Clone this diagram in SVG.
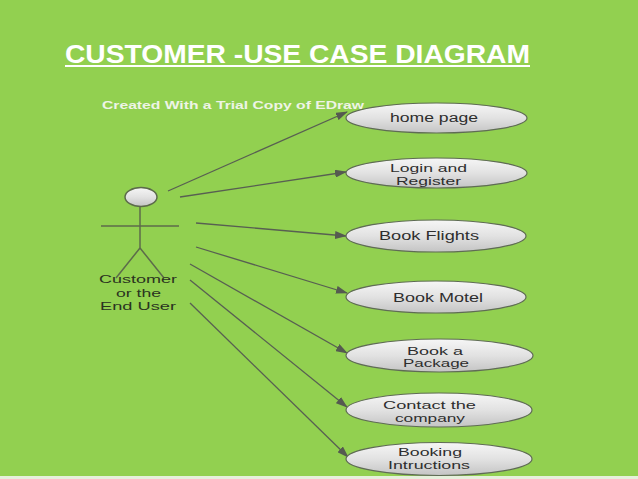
<svg xmlns="http://www.w3.org/2000/svg" width="638" height="479" viewBox="0 0 638 479">
<defs>
<linearGradient id="ug" x1="0" y1="0" x2="0" y2="1">
<stop offset="0" stop-color="#f6f6f6"/>
<stop offset="0.5" stop-color="#e2e2e2"/>
<stop offset="1" stop-color="#c4c4c4"/>
</linearGradient>
<marker id="arr" markerWidth="12" markerHeight="8" refX="11" refY="4" orient="auto" markerUnits="userSpaceOnUse">
<path d="M0,0 L12,4 L0,8 Z" fill="#555a50"/>
</marker>
<style>
.uc{fill:url(#ug);stroke:#5f6b55;stroke-width:1.2}
.ut{font-family:"Liberation Sans",Arial,sans-serif;font-size:12.5px;fill:#2e2e2e;text-anchor:middle}
.u2{font-size:11px}
.ac{font-family:"Liberation Sans",Arial,sans-serif;font-size:11.5px;fill:#2a3320;text-anchor:middle}
.cn{stroke:#585f52;stroke-width:1.3;fill:none;marker-end:url(#arr)}
.act{stroke:#5c6b4a;stroke-width:1.5;fill:none}
</style>
</defs>
<rect x="0" y="0" width="638" height="479" fill="#92d050"/>
<rect x="0" y="476" width="638" height="3" fill="#e6f0dc"/>
<text x="65" y="63" font-family="'Liberation Sans',Arial,sans-serif" font-size="25" font-weight="bold" fill="#ffffff" textLength="465" lengthAdjust="spacingAndGlyphs">CUSTOMER -USE CASE DIAGRAM</text>
<rect x="65" y="65" width="465" height="2" fill="#ffffff"/>
<text x="102" y="108.5" font-family="'Liberation Sans',Arial,sans-serif" font-size="10" font-weight="bold" fill="#eef4e6" textLength="262" lengthAdjust="spacingAndGlyphs">Created With a Trial Copy of EDraw</text>
<g id="connectors">
<line class="cn" x1="168" y1="191" x2="347" y2="112"/>
<line class="cn" x1="180" y1="197" x2="346" y2="172"/>
<line class="cn" x1="196" y1="223" x2="346" y2="236"/>
<line class="cn" x1="196" y1="247" x2="347" y2="293"/>
<line class="cn" x1="190" y1="264" x2="347" y2="353"/>
<line class="cn" x1="190" y1="280" x2="347" y2="407"/>
<line class="cn" x1="190" y1="303" x2="348" y2="457"/>
</g>
<g id="actor">
<ellipse cx="141" cy="197" rx="16" ry="9.5" fill="url(#ug)" stroke="#5c6b4a" stroke-width="1.5"/>
<line class="act" x1="140" y1="206.5" x2="140" y2="248"/>
<line class="act" x1="101" y1="226" x2="179" y2="226"/>
<line class="act" x1="140" y1="248" x2="116" y2="278"/>
<line class="act" x1="140" y1="248" x2="164" y2="278"/>
<text class="ac" x="138" y="283" textLength="78" lengthAdjust="spacingAndGlyphs">Customer</text>
<text class="ac" x="138.5" y="297" textLength="45" lengthAdjust="spacingAndGlyphs">or the</text>
<text class="ac" x="138" y="310" textLength="76" lengthAdjust="spacingAndGlyphs">End User</text>
</g>
<g id="uc1">
<ellipse class="uc" cx="436.5" cy="118" rx="90.5" ry="15"/>
<text class="ut" x="434" y="122" textLength="88" lengthAdjust="spacingAndGlyphs">home page</text>
</g>
<g id="uc2">
<ellipse class="uc" cx="436.5" cy="173" rx="90.5" ry="15"/>
<text class="ut u2" x="428.5" y="172" textLength="77" lengthAdjust="spacingAndGlyphs">Login and</text>
<text class="ut u2" x="428.5" y="185" textLength="65" lengthAdjust="spacingAndGlyphs">Register</text>
</g>
<g id="uc3">
<ellipse class="uc" cx="436" cy="236" rx="90" ry="16"/>
<text class="ut" x="429" y="240" textLength="100" lengthAdjust="spacingAndGlyphs">Book Flights</text>
</g>
<g id="uc4">
<ellipse class="uc" cx="436" cy="297" rx="90" ry="16"/>
<text class="ut" x="438" y="302" textLength="90" lengthAdjust="spacingAndGlyphs">Book Motel</text>
</g>
<g id="uc5">
<ellipse class="uc" cx="439.5" cy="355.5" rx="93.5" ry="16.5"/>
<text class="ut u2" x="435" y="354.5" textLength="56" lengthAdjust="spacingAndGlyphs">Book a</text>
<text class="ut u2" x="436" y="367" textLength="66" lengthAdjust="spacingAndGlyphs">Package</text>
</g>
<g id="uc6">
<ellipse class="uc" cx="439" cy="410" rx="93" ry="17"/>
<text class="ut u2" x="429.5" y="409" textLength="93" lengthAdjust="spacingAndGlyphs">Contact the</text>
<text class="ut u2" x="430" y="422" textLength="70" lengthAdjust="spacingAndGlyphs">company</text>
</g>
<g id="uc7">
<ellipse class="uc" cx="439" cy="459" rx="93" ry="16.5"/>
<text class="ut u2" x="430" y="456" textLength="64" lengthAdjust="spacingAndGlyphs">Booking</text>
<text class="ut u2" x="429" y="469" textLength="82" lengthAdjust="spacingAndGlyphs">Intructions</text>
</g>
</svg>
